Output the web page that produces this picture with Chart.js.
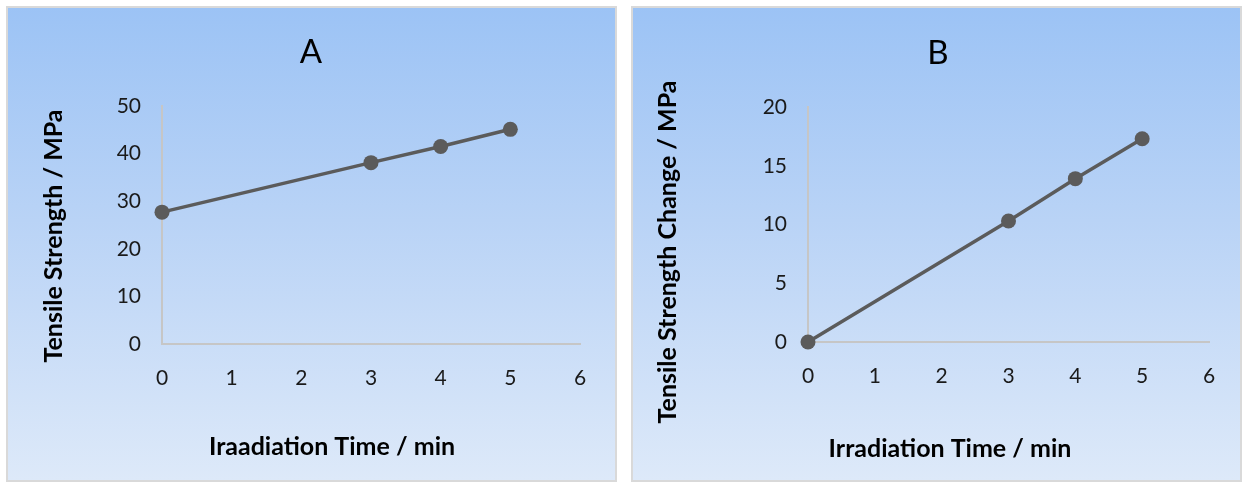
<!DOCTYPE html>
<html>
<head>
<meta charset="utf-8">
<script src="https://cdn.jsdelivr.net/npm/chart.js@4"></script>
<style>
  body { margin: 0; background: #fff; width: 1244px; height: 483px; position: relative; overflow: hidden; }
  .panel {
    position: absolute; top: 6px; width: 607px; height: 472px;
    border: 2px solid #d9d9d9;
    background: linear-gradient(to bottom, #9cc3f5 0%, #b9d3f6 45%, #dde9f9 100%);
  }
  #panelA { left: 6px; }
  #panelB { left: 631px; }
</style>
</head>
<body>
<div class="panel" id="panelA"><canvas id="chartA"></canvas></div>
<div class="panel" id="panelB"><canvas id="chartB"></canvas></div>
<script>
// data
const timeMin = [0, 3, 4, 5];
const tensileStrength = [27.7, 38.1, 41.5, 45.1];
const strengthChange = [0, 10.3, 13.9, 17.3];

const xTickValues = [0, 1, 2, 3, 4, 5, 6];
const yTickValuesA = [0, 10, 20, 30, 40, 50];
const yTickValuesB = [0, 5, 10, 15, 20];

const lineColor = '#5b5b5b';
const axisColor = '#c6c6c6';
const fontFamily = 'Lato, "Open Sans", sans-serif';

// draws the panel letter and the axis titles at fixed spots
const panelText = {
    id: 'panelText',
    afterDraw(chart, args, opts) {
        const ctx = chart.ctx;
        opts.items.forEach(item => {
            ctx.save();
            ctx.translate(item.x, item.y);
            if (item.rotate) ctx.rotate(item.rotate);
            ctx.font = item.font;
            ctx.fillStyle = '#000';
            ctx.textAlign = 'center';
            ctx.textBaseline = 'middle';
            ctx.fillText(item.text, 0, 0);
            ctx.restore();
        });
    }
};

function makeChart(id, yValues, yTicks, plotLeft, plotRight, plotTop, plotBottom, texts) {
    const ctx = document.getElementById(id).getContext('2d');
    return new Chart(ctx, {
        type: 'line',
        data: {
            datasets: [{
                data: timeMin.map((t, i) => ({ x: t, y: yValues[i] })),
                borderColor: lineColor,
                backgroundColor: lineColor,
                borderWidth: 3.5,
                pointRadius: 7.5,
                pointBorderWidth: 0,
                pointBackgroundColor: lineColor,
                tension: 0,
                clip: false
            }]
        },
        options: {
            responsive: true,
            maintainAspectRatio: false,
            animation: false,
            layout: {
                padding: { top: plotTop, right: 607 - plotRight, left: 0, bottom: 0 }
            },
            plugins: {
                legend: { display: false },
                tooltip: { enabled: false },
                panelText: { items: texts }
            },
            scales: {
                x: {
                    type: 'linear',
                    min: xTickValues[0],
                    max: xTickValues[xTickValues.length - 1],
                    afterBuildTicks: scale => { scale.ticks = xTickValues.map(v => ({ value: v })); },
                    afterFit: scale => { scale.height = 472 - plotBottom; },
                    grid: { display: false, drawTicks: false },
                    border: { display: true, color: axisColor, width: 2 },
                    ticks: { color: '#1a1a1a', padding: 22, font: { family: fontFamily, size: 21 } }
                },
                y: {
                    min: yTicks[0],
                    max: yTicks[yTicks.length - 1],
                    afterBuildTicks: scale => { scale.ticks = yTicks.map(v => ({ value: v })); },
                    afterFit: scale => { scale.width = plotLeft; },
                    grid: { display: false, drawTicks: false },
                    border: { display: true, color: axisColor, width: 2 },
                    ticks: { color: '#1a1a1a', padding: 21, font: { family: fontFamily, size: 21 } }
                }
            }
        },
        plugins: [panelText]
    });
}

makeChart('chartA', tensileStrength, yTickValuesA, 154, 572, 98, 336, [
    { text: 'A', x: 303, y: 44, font: '33px ' + fontFamily },
    { text: 'Iraadiation Time / min', x: 324, y: 439, font: 'bold 25px ' + fontFamily },
    { text: 'Tensile Strength / MPa', x: 46, y: 228, rotate: -Math.PI / 2, font: 'bold 25px ' + fontFamily }
]);

makeChart('chartB', strengthChange, yTickValuesB, 175, 576, 99, 334, [
    { text: 'B', x: 305, y: 45, font: '33px ' + fontFamily },
    { text: 'Irradiation Time / min', x: 317, y: 441, font: 'bold 25px ' + fontFamily },
    { text: 'Tensile Strength Change / MPa', x: 35, y: 244, rotate: -Math.PI / 2, font: 'bold 25px ' + fontFamily }
]);
</script>
</body>
</html>
